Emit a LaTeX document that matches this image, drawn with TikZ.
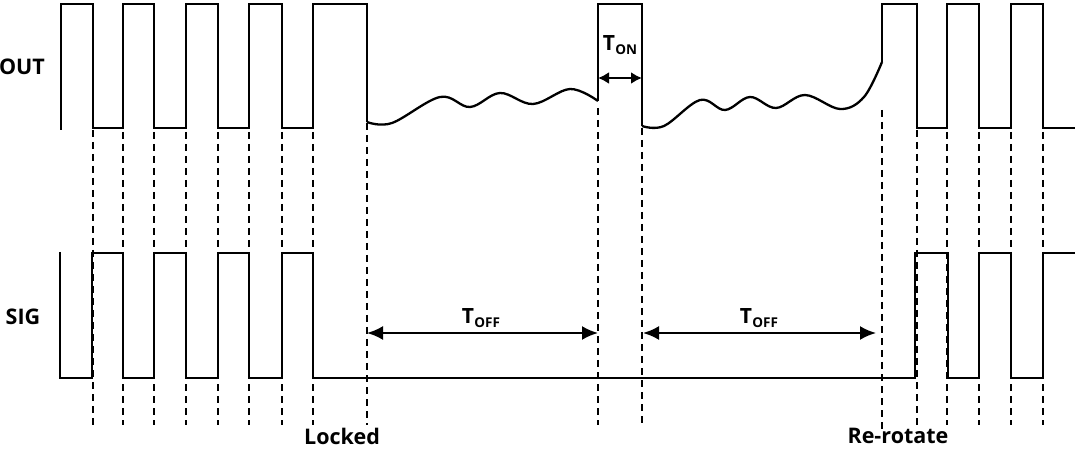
\documentclass[tikz,border=0pt]{standalone}
\usepackage{fontspec}
\setmainfont{Open Sans}
\usetikzlibrary{arrows.meta}
\newcommand{\tsub}[1]{T\kern0.3pt\raisebox{-4pt}{\fontsize{13.5}{14}\selectfont #1}}
\begin{document}
\begin{tikzpicture}[x=1pt,y=-1pt,
  wave/.style={line width=2.3pt, line join=miter, line cap=butt},
  guide/.style={line width=1.2pt, dash pattern=on 7pt off 5pt},
  dimbig/.style={line width=2.2pt, {Latex[length=16pt,width=14pt]}-{Latex[length=16pt,width=14pt]}},
  dimsmall/.style={line width=2.2pt, {Latex[length=11pt,width=12pt]}-{Latex[length=11pt,width=12pt]}},
  lbl/.style={font=\bfseries\fontsize{21.5}{24}\selectfont, inner sep=0pt},
  tlbl/.style={font=\bfseries\fontsize{21}{24}\selectfont, inner sep=0pt}]
\useasboundingbox (0,0) rectangle (1080,449);

% guide lines
\foreach \x in {123,154,186,218,249,282,313,947,979,1011,1043}
  \draw[guide] (\x,60) -- (\x,425);
\foreach \x in {93,917}
  \draw[guide] (\x,130) -- (\x,425);
\draw[guide] (367,123) -- (367,425);
\draw[guide] (598,108) -- (598,425);
\draw[guide] (642,80) -- (642,427);
\draw[guide] (882,110) -- (882,430);

% OUT waveform
\draw[wave] (61,130) -- (61,4) -- (93,4) -- (93,128) -- (123,128) -- (123,4) -- (154,4) -- (154,128)
  -- (186,128) -- (186,4) -- (218,4) -- (218,128) -- (249,128) -- (249,4) -- (282,4) -- (282,128)
  -- (313,128) -- (313,4) -- (367,4) -- (367,122);
\draw[wave, line join=round] plot[smooth, tension=0.6] coordinates {(367,122) (392,123) (440,97) (470,107) (500,93) (533,104) (570,89) (598,101)};
\draw[wave] (598,101) -- (598,4) -- (642,4) -- (642,126);
\draw[wave, line join=round] plot[smooth, tension=0.6] coordinates {(642,126) (664,126) (700,100) (725,110) (750,97) (776,108) (805,95) (840,109) (864,97) (882,62)};
\draw[wave] (882,62) -- (882,4) -- (917,4) -- (917,128) -- (947,128) -- (947,4) -- (979,4) -- (979,128)
  -- (1011,128) -- (1011,4) -- (1043,4) -- (1043,128) -- (1075,128);

% SIG waveform
\draw[wave] (60,252) -- (60,378) -- (92,378) -- (92,253) -- (123,253) -- (123,378) -- (154,378) -- (154,253)
  -- (186,253) -- (186,378) -- (218,378) -- (218,253) -- (249,253) -- (249,378) -- (282,378) -- (282,253)
  -- (313,253) -- (313,378) -- (915,378) -- (915,253) -- (948,253) -- (948,378) -- (979,378) -- (979,253)
  -- (1011,253) -- (1011,378) -- (1043,378) -- (1043,253) -- (1075,253);

% dimension arrows
\coordinate (on1) at (598,78);
\coordinate (on2) at (642,78);
\coordinate (off1a) at (367,333);
\coordinate (off1b) at (598,333);
\coordinate (off2a) at (643,333);
\coordinate (off2b) at (876,333);
\draw[dimsmall] (on1) -- (on2);
\draw[dimbig] (off1a) -- (off1b);
\draw[dimbig] (off2a) -- (off2b);

% labels
\node[lbl] (out) at (22,67) {OUT};
\node[lbl] (sig) at (23,317) {SIG};
\node[lbl] (locked) at (342,436) {Locked};
\node[lbl] (rerot) at (898,436) {Re-rotate};
\node[tlbl] (ton) at (620,45) {\tsub{ON}};
\node[tlbl] (toff1) at (481,318) {\tsub{OFF}};
\node[tlbl] (toff2) at (759,318) {\tsub{OFF}};
\end{tikzpicture}
\end{document}
